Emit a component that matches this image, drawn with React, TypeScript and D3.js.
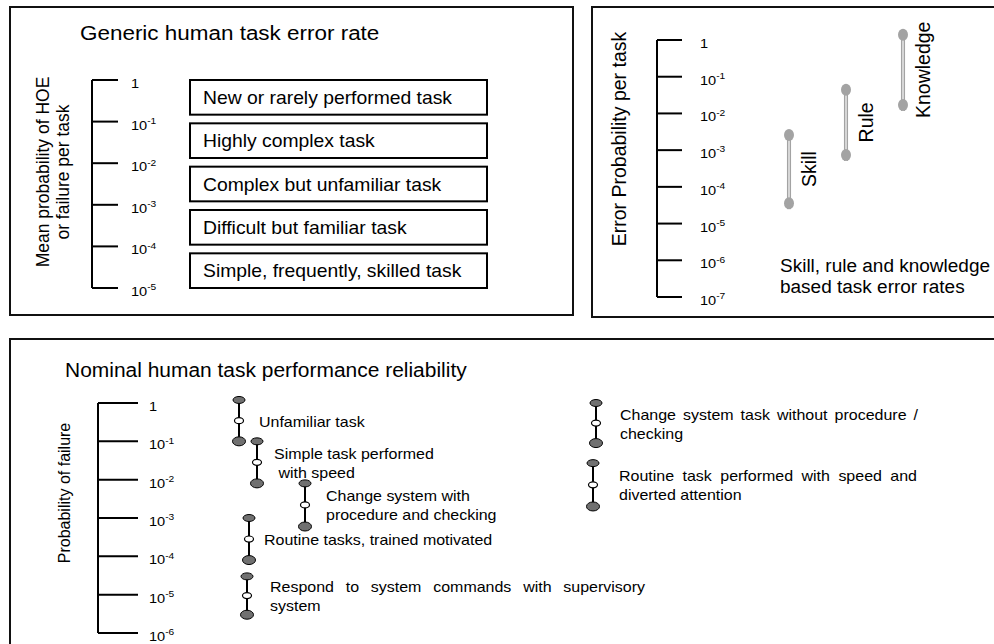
import React, { useEffect, useRef } from "react";
import * as d3 from "d3";

// --- data ---
const genericTicks = [1, 1e-1, 1e-2, 1e-3, 1e-4, 1e-5];
const genericTasks = [
  "New or rarely performed task",
  "Highly complex task",
  "Complex but unfamiliar task",
  "Difficult but familiar task",
  "Simple, frequently, skilled task",
];

const srkTicks = [1, 1e-1, 1e-2, 1e-3, 1e-4, 1e-5, 1e-6, 1e-7];
const srkNames = ["Skill", "Rule", "Knowledge"];
const srkUpper = [2.6e-3, 4.4e-2, 1.4];
const srkLower = [3.6e-5, 7.4e-4, 1.7e-2];

const nominalTicks = [1, 1e-1, 1e-2, 1e-3, 1e-4, 1e-5, 1e-6];
const nominalLabels = [
  ["Unfamiliar task"],
  ["Simple task performed", " with speed"],
  ["Change system with", "procedure and checking"],
  ["Routine tasks, trained motivated"],
  ["Respond to system commands with supervisory", "system"],
  ["Change system task without procedure /", "checking"],
  ["Routine task performed with speed and", "diverted attention"],
];
const nominalUpper = [1.2, 0.1, 8e-3, 1e-3, 3e-5, 1, 2.7e-2];
const nominalLower = [0.1, 8e-3, 6e-4, 8e-5, 3e-6, 0.09, 2e-3];

// --- layout ---
const W = 994;
const H = 644;
const SX = 1.08; // the source picture is slightly stretched sideways
const FONT = "'Liberation Sans', Arial, sans-serif";
const taskX = [239, 257, 305, 249, 247, 596, 593];
const taskLabelDx = [20, 17, 21, 15, 23, 24, 26];
// widths of the justified first lines (px on screen), 0 = natural
const taskJustify = [0, 0, 0, 0, 375, 298, 298];

function stretchedText(g: any, x: number, y: number, str: string, size: number) {
  return g
    .append("text")
    .attr("transform", `translate(${x},${y}) scale(${SX},1)`)
    .attr("font-size", size)
    .style("white-space", "pre")
    .text(str);
}

function tickLabel(g: any, v: number, x: number, y: number, size: number) {
  const t = g
    .append("text")
    .attr("transform", `translate(${x},${y}) scale(${SX},1)`)
    .attr("font-size", size);
  const e = Math.round(Math.log10(v));
  if (e === 0) {
    t.text("1");
  } else {
    t.append("tspan").text("10");
    t.append("tspan")
      .attr("font-size", size * 0.7)
      .attr("dy", -size * 0.42)
      .text(String(e));
  }
}

function logAxis(g: any, y: any, ticks: number[], x0: number, len: number, labelX: number) {
  const [r0, r1] = y.range();
  g.append("line")
    .attr("x1", x0).attr("x2", x0)
    .attr("y1", r1).attr("y2", r0)
    .attr("stroke", "#000").attr("stroke-width", 2);
  ticks.forEach((t) => {
    g.append("line")
      .attr("x1", x0).attr("x2", x0 + len)
      .attr("y1", y(t)).attr("y2", y(t))
      .attr("stroke", "#000").attr("stroke-width", 2);
    tickLabel(g, t, labelX, y(t) + 8, 13.5);
  });
}

export default function App() {
  const svgRef = useRef<SVGSVGElement>(null);

  useEffect(() => {
    const svg = d3.select(svgRef.current);
    svg.selectAll("*").remove();
    const root = svg.append("g").attr("font-family", FONT).attr("fill", "#000");

    // panel frames
    root.append("rect").attr("x", 10).attr("y", 7).attr("width", 563).attr("height", 308)
      .attr("fill", "none").attr("stroke", "#111").attr("stroke-width", 2);
    root.append("rect").attr("x", 592).attr("y", 7).attr("width", 420).attr("height", 310)
      .attr("fill", "none").attr("stroke", "#111").attr("stroke-width", 2);
    root.append("rect").attr("x", 10).attr("y", 339).attr("width", 1000).attr("height", 320)
      .attr("fill", "none").attr("stroke", "#111").attr("stroke-width", 2);

    // ---- panel 1 ----
    const p1 = root.append("g");
    stretchedText(p1, 80, 40, "Generic human task error rate", 20.8);
    const y1 = d3.scaleLog().domain([1e-5, 1]).range([288, 80]);
    logAxis(p1, y1, genericTicks, 92, 26, 131);
    p1.append("text")
      .attr("transform", "translate(49,172) rotate(-90)")
      .attr("text-anchor", "middle").attr("font-size", 17.5)
      .text("Mean probability of HOE");
    p1.append("text")
      .attr("transform", "translate(69,172) rotate(-90)")
      .attr("text-anchor", "middle").attr("font-size", 17.5)
      .text("or failure per task");
    const band = d3.scaleBand<string>().domain(genericTasks).range([80, 288]).paddingInner(0.2);
    genericTasks.forEach((t) => {
      const by = band(t)!;
      p1.append("rect")
        .attr("x", 190).attr("y", by)
        .attr("width", 297).attr("height", band.bandwidth())
        .attr("fill", "#fff").attr("stroke", "#000").attr("stroke-width", 2);
      stretchedText(p1, 203, by + band.bandwidth() / 2 + 6.5, t, 17.9);
    });

    // ---- panel 2 ----
    const p2 = root.append("g");
    const y2 = d3.scaleLog().domain([1e-7, 1]).range([297, 40]);
    logAxis(p2, y2, srkTicks, 657, 25, 700);
    p2.append("text")
      .attr("transform", "translate(626,139) rotate(-90)")
      .attr("text-anchor", "middle").attr("font-size", 19.5)
      .text("Error Probability per task");
    const x2 = d3.scalePoint<string>().domain(srkNames).range([789, 903]);
    srkNames.forEach((n, i) => {
      const cx = x2(n)!;
      const yt = y2(srkUpper[i]);
      const yb = y2(srkLower[i]);
      [-1.3, 1.3].forEach((o) => {
        p2.append("line")
          .attr("x1", cx + o).attr("x2", cx + o)
          .attr("y1", yt).attr("y2", yb + 6)
          .attr("stroke", "#a3a3a3").attr("stroke-width", 1.5);
      });
      [yt, yb].forEach((yy) => {
        p2.append("ellipse")
          .attr("cx", cx).attr("cy", yy).attr("rx", 5).attr("ry", 6)
          .attr("fill", "#a3a3a3");
      });
      p2.append("text")
        .attr("transform", `translate(${cx + 27},${(yt + yb) / 2}) rotate(-90)`)
        .attr("text-anchor", "middle").attr("font-size", 19.5)
        .text(n);
    });
    stretchedText(p2, 780, 272, "Skill, rule and knowledge", 17.6);
    stretchedText(p2, 780, 293, "based task error rates", 17.6);

    // ---- panel 3 ----
    const p3 = root.append("g");
    stretchedText(p3, 65, 377, "Nominal human task performance reliability", 19.4);
    const y3 = d3.scaleLog().domain([1e-6, 1]).range([633, 403]);
    logAxis(p3, y3, nominalTicks, 98, 40, 149);
    p3.append("text")
      .attr("transform", "translate(70,493) rotate(-90)")
      .attr("text-anchor", "middle").attr("font-size", 16)
      .text("Probability of failure");

    nominalLabels.forEach((lines, i) => {
      const cx = taskX[i];
      const yt = y3(nominalUpper[i]);
      const yb = y3(nominalLower[i]);
      const ym = (yt + yb) / 2;
      p3.append("line")
        .attr("x1", cx).attr("x2", cx).attr("y1", yt).attr("y2", yb)
        .attr("stroke", "#000").attr("stroke-width", 2);
      p3.append("ellipse").attr("cx", cx).attr("cy", yt).attr("rx", 6).attr("ry", 3.5)
        .attr("fill", "#707070").attr("stroke", "#000").attr("stroke-width", 1);
      p3.append("ellipse").attr("cx", cx).attr("cy", ym).attr("rx", 4.5).attr("ry", 3)
        .attr("fill", "#fff").attr("stroke", "#000").attr("stroke-width", 1.2);
      p3.append("ellipse").attr("cx", cx).attr("cy", yb).attr("rx", 6.5).attr("ry", 4.5)
        .attr("fill", "#707070").attr("stroke", "#000").attr("stroke-width", 1);
      lines.forEach((ln, j) => {
        const ly = ym + 6 + (j - (lines.length - 1) / 2) * 19;
        const t = stretchedText(p3, cx + taskLabelDx[i], ly, ln, 14.8);
        if (j === 0 && taskJustify[i] > 0) {
          const node = t.node() as SVGTextElement;
          const natural = node.getComputedTextLength();
          const spaces = (ln.match(/ /g) || []).length;
          const extra = (taskJustify[i] / SX - natural) / spaces;
          if (extra > 0) t.attr("word-spacing", extra);
        }
      });
    });
  }, []);

  return (
    <svg
      ref={svgRef}
      width={W}
      height={H}
      style={{ position: "absolute", left: 0, top: 0, background: "#fff" }}
    />
  );
}
